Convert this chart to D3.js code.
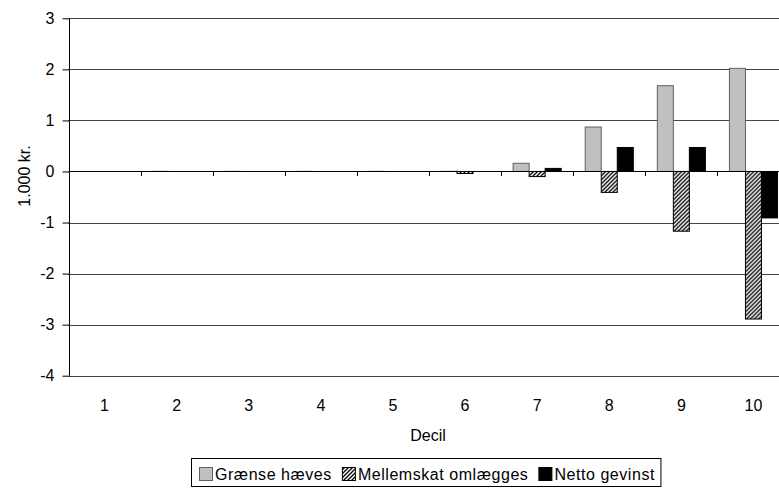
<!DOCTYPE html>
<html>
<head>
<meta charset="utf-8">
<script src="https://cdn.jsdelivr.net/npm/d3@7"></script>
<style>
  html, body { margin: 0; padding: 0; background: #fff; }
  svg { display: block; font-family: "Liberation Sans", Arial, sans-serif; }
</style>
</head>
<body>
<svg id="chart" width="779" height="488"></svg>
<script>
// Deciles and the three series (1.000 kr.)
const deciles = ["1", "2", "3", "4", "5", "6", "7", "8", "9", "10"];
const graenseHaeves   = [0.00, 0.01, 0.01, 0.01, 0.01, 0.01, 0.16, 0.87, 1.68, 2.02];
const mellemskat      = [0.00, 0.00, 0.00, 0.00, 0.00, -0.04, -0.10, -0.41, -1.17, -2.89];
const nettoGevinst    = [0.00, 0.00, 0.00, 0.00, 0.00, 0.00, 0.06, 0.47, 0.47, -0.91];
const seriesNames = ["Grænse hæves", "Mellemskat omlægges", "Netto gevinst"];
const yTicks = [-4, -3, -2, -1, 0, 1, 2, 3];

const FS = 16;
const svg = d3.select("#chart");

// pattern for the hatched series
const defs = svg.append("defs");
const pat = defs.append("pattern")
  .attr("id", "hatch").attr("patternUnits", "userSpaceOnUse")
  .attr("width", 4).attr("height", 4);
pat.append("rect").attr("width", 4).attr("height", 4).attr("fill", "#fff");
pat.append("path").attr("d", "M-1,1 l2,-2 M0,4 l4,-4 M3,5 l2,-2")
  .attr("stroke", "#000").attr("stroke-width", 1.3);

const fills = ["#c0c0c0", "url(#hatch)", "#000"];
const strokes = ["#606060", "#000", "#000"];

const left = 68.5, bandW = 72.1;
const x = d3.scaleBand().domain(deciles).range([left, left + bandW * 10]).paddingInner(0).paddingOuter(0);
const y = d3.scaleLinear().domain([-4, 3]).range([375.7, 18.3]);
// 150% gap between groups: each bar is band / 4.5
const inner = d3.scaleBand().domain([0, 1, 2]).range([0, x.bandwidth()]).paddingInner(0).paddingOuter(0.75);

// gridlines
svg.append("g").selectAll("line").data(yTicks.filter(t => t !== 0)).join("line")
  .attr("x1", left).attr("x2", 779)
  .attr("y1", d => Math.round(y(d)) + 0.5).attr("y2", d => Math.round(y(d)) + 0.5)
  .attr("stroke", "#444").attr("stroke-width", 1);

// y axis
const yAxis = svg.append("g").attr("transform", `translate(${Math.round(left) + 0.5},0)`)
  .call(d3.axisLeft(y).tickValues(yTicks).tickSize(7).tickPadding(8).tickFormat(d => String(d)));
yAxis.select(".domain").attr("stroke", "#000").attr("d", `M0,${y(3)}V${y(-4)}`);
yAxis.selectAll(".tick line").attr("stroke", "#000");
yAxis.selectAll(".tick text").attr("font-size", FS).attr("fill", "#000")
  .attr("font-family", "Liberation Sans, Arial, sans-serif");

// bars
const data = deciles.map((d, i) => [graenseHaeves[i], mellemskat[i], nettoGevinst[i]]);
const groups = svg.append("g").selectAll("g").data(data).join("g")
  .attr("transform", (d, i) => `translate(${x(deciles[i])},0)`);
groups.selectAll("rect").data(d => d.map((v, k) => ({v, k}))).join("rect")
  .attr("x", d => inner(d.k))
  .attr("width", inner.bandwidth())
  .attr("y", d => Math.min(y(d.v), y(0)))
  .attr("height", d => Math.abs(y(d.v) - y(0)))
  .attr("fill", d => fills[d.k])
  .attr("stroke", d => strokes[d.k])
  .attr("stroke-width", 1)
  .attr("stroke-opacity", d => Math.abs(d.v) < 0.02 ? 0.25 : 1);

// category axis along zero
const xAxis = svg.append("g").attr("transform", `translate(0,${Math.round(y(0)) + 0.5})`)
  .call(d3.axisBottom(x).tickSize(0).tickFormat(""));
xAxis.select(".domain").attr("stroke", "#000").attr("d", `M${left},0H779`);
svg.append("g").selectAll("line").data(deciles.slice(1)).join("line")
  .attr("x1", d => Math.round(x(d)) + 0.5).attr("x2", d => Math.round(x(d)) + 0.5)
  .attr("y1", Math.round(y(0)) + 0.5).attr("y2", Math.round(y(0)) + 5)
  .attr("stroke", "#000");

// category labels below the plot
svg.append("g").selectAll("text").data(deciles).join("text")
  .attr("x", d => x(d) + x.bandwidth() / 2)
  .attr("y", 411)
  .attr("text-anchor", "middle").attr("font-size", FS)
  .text(d => d);

svg.append("text").attr("x", 428).attr("y", 441).attr("text-anchor", "middle")
  .attr("font-size", FS).text("Decil");

svg.append("text").attr("transform", `translate(30,176) rotate(-90)`)
  .attr("text-anchor", "middle").attr("font-size", FS).text("1.000 kr.");

// legend: items laid out left to right from measured text widths
const lg = svg.append("g");
const box = lg.append("rect").attr("x", 191.5).attr("y", 458.5).attr("height", 28)
  .attr("fill", "#fff").attr("stroke", "#000");
let cx = 199;
seriesNames.forEach((name, k) => {
  lg.append("rect").attr("x", cx + 0.5).attr("y", 467.5).attr("width", 13).attr("height", 13)
    .attr("fill", fills[k]).attr("stroke", k === 0 ? "#606060" : "#000");
  const t = lg.append("text").attr("x", cx + 16).attr("y", 480).attr("font-size", FS)
    .attr("letter-spacing", 0.55).text(name);
  cx = cx + 16 + t.node().getComputedTextLength() + 10;
});
box.attr("width", cx - 4 - 191.5);
</script>
</body>
</html>
